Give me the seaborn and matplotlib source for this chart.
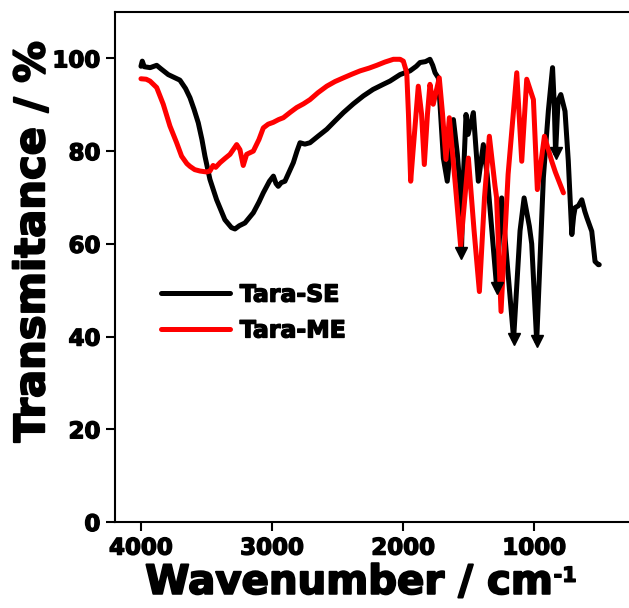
import matplotlib
matplotlib.use("Agg")
import matplotlib.pyplot as plt
import matplotlib.patheffects as pe
import seaborn as sns
import pandas as pd

# FTIR spectra (wavenumber in cm-1, transmittance in %)
wn_se = [4000, 3990, 3975, 3930, 3880, 3850, 3792, 3740, 3703, 3660, 3626, 3595,
         3563, 3535, 3512, 3474, 3423, 3360, 3310, 3283, 3250, 3207, 3143, 3100,
         3067, 3020, 2990, 2970, 2953, 2930, 2902, 2870, 2838, 2810, 2787, 2750,
         2711, 2650, 2583, 2520, 2456, 2380, 2304, 2230, 2152, 2101, 2024, 1948,
         1900, 1872, 1830, 1796, 1775, 1757, 1732, 1694, 1664, 1636, 1617, 1587,
         1559, 1556, 1540, 1521, 1505, 1465, 1427, 1389, 1360, 1287, 1249, 1158,
         1109, 1078, 1038, 1020, 982, 931, 893, 861, 848, 838, 819, 798, 766, 741,
         714, 700, 689, 664, 638, 615, 600, 562, 537, 512, 505]
t_se = [98.3, 99.4, 98.2, 98.0, 98.5, 97.8, 96.5, 95.8, 95.3, 93.5, 91.5, 89.0,
        86.1, 82.5, 78.9, 73.9, 69.5, 65.2, 63.5, 63.2, 63.9, 64.5, 66.7, 69.0,
        71.0, 73.5, 74.6, 73.0, 72.4, 73.2, 73.5, 75.5, 77.5, 80.0, 81.8, 81.5,
        81.8, 83.2, 84.7, 86.5, 88.3, 90.2, 91.9, 93.3, 94.4, 95.1, 96.5, 97.3,
        98.3, 99.1, 99.3, 99.8, 98.5, 96.9, 95.8, 78.5, 73.5, 81.4, 86.8, 79.3,
        69.2, 58.0, 75.0, 87.9, 83.6, 88.3, 73.5, 81.4, 75.0, 50.5, 69.9, 39.5,
        62.8, 69.9, 63.8, 60.0, 39.0, 74.3, 88.7, 98.0, 90.0, 79.5, 90.9, 92.2,
        88.6, 77.9, 62.0, 66.0, 67.8, 68.2, 69.5, 67.0, 65.7, 62.7, 56.2, 55.5, 55.5]

wn_me = [4000, 3960, 3931, 3880, 3830, 3779, 3728, 3690, 3650, 3626, 3590, 3550,
         3500, 3474, 3450, 3430, 3397, 3360, 3321, 3270, 3245, 3220, 3194, 3143,
         3100, 3067, 3030, 2991, 2950, 2914, 2860, 2812, 2760, 2711, 2650, 2583,
         2520, 2456, 2390, 2329, 2260, 2202, 2140, 2075, 2024, 1999, 1973, 1960,
         1943, 1925, 1885, 1860, 1839, 1815, 1796, 1771, 1725, 1700, 1674, 1648,
         1600, 1562, 1503, 1460, 1419, 1380, 1343, 1300, 1288, 1254, 1200, 1134,
         1096, 1058, 1007, 977, 923, 867, 840, 778]
t_me = [95.6, 95.5, 95.1, 93.7, 90.1, 85.4, 81.8, 78.9, 77.3, 76.7, 76.0, 75.7,
        75.5, 75.7, 76.9, 76.5, 77.5, 78.4, 79.3, 81.4, 80.3, 76.9, 79.3, 80.0,
        82.5, 85.0, 85.8, 86.2, 86.8, 87.2, 88.4, 89.4, 90.2, 91.1, 92.6, 94.0,
        95.0, 95.8, 96.6, 97.3, 97.9, 98.5, 99.2, 99.8, 99.8, 99.4, 96.9, 88.0,
        73.5, 80.0, 94.0, 88.0, 77.1, 88.0, 94.4, 90.1, 95.8, 88.0, 78.2, 87.2,
        72.0, 59.5, 78.5, 63.0, 49.7, 70.0, 83.2, 72.5, 70.0, 45.4, 75.0, 96.9,
        77.8, 95.5, 91.1, 71.7, 83.2, 77.8, 75.5, 71.0]

# marked absorption bands of Tara-SE
band_wn = [1556, 1287, 1158, 982, 838]
band_t = [58.0, 50.5, 39.5, 39.0, 79.5]

labels = ["Tara-SE", "Tara-ME"]
colors = ["black", "red"]
x_ticks = [4000, 3000, 2000, 1000]
y_ticks = [0, 20, 40, 60, 80, 100]

df = pd.concat([
    pd.DataFrame({"wn": wn_se, "T": t_se, "sample": labels[0]}),
    pd.DataFrame({"wn": wn_me, "T": t_me, "sample": labels[1]}),
], ignore_index=True)

sns.set_style("ticks")
plt.rcParams["font.family"] = ["DejaVu Sans"]
plt.rcParams["font.weight"] = "bold"
for key in ["text.color", "axes.labelcolor", "xtick.color", "ytick.color", "axes.edgecolor"]:
    plt.rcParams[key] = "black"

# slightly heavier glyphs
heavy = [pe.withStroke(linewidth=1.0, foreground="black")]
heavier = [pe.withStroke(linewidth=1.4, foreground="black")]

fig = plt.figure(figsize=(6.29, 6.08), dpi=100)
ax = fig.add_axes([115 / 629, 86 / 608, 514 / 629, 510 / 608])

sns.lineplot(data=df, x="wn", y="T", hue="sample", palette=dict(zip(labels, colors)),
             sort=False, estimator=None, linewidth=3.6, ax=ax, legend=True)
for line in ax.get_lines():
    line.set_solid_joinstyle("round")
    line.set_solid_capstyle("round")
ax.plot(band_wn, band_t, linestyle="none", marker="v", markersize=8, color="black")

ax.set_xlim(4198, 278)
ax.set_ylim(0, 110)
ax.set_xticks(x_ticks)
ax.set_yticks(y_ticks)
ax.tick_params(axis="both", which="major", length=6.5, width=1.5, direction="out",
               labelsize=16.5, pad=4)
for lab in ax.get_xticklabels() + ax.get_yticklabels():
    lab.set_fontweight("bold")
    lab.set_path_effects(heavy)
for side in ["left", "top", "bottom"]:
    ax.spines[side].set_linewidth(1.5)
ax.spines["right"].set_visible(False)

xl = ax.set_xlabel("Wavenumber / cm", fontsize=29, fontweight="bold", labelpad=0)
yl = ax.set_ylabel("Transmitance / %", fontsize=30, fontweight="bold", labelpad=0)
xl.set_path_effects(heavier)
yl.set_path_effects(heavier)
xl.set_verticalalignment("top")
ax.xaxis.set_label_coords(0.455, -0.08)
ax.yaxis.set_label_coords(-0.161, 0.549)
yl.set_verticalalignment("center")

handles, _ = ax.get_legend_handles_labels()
leg = ax.legend(handles[:2], labels, loc="upper left", bbox_to_anchor=(0.049, 0.511),
                frameon=False, handlelength=2.9, handletextpad=0.42,
                labelspacing=0.5, prop={"weight": "bold", "size": 17})
for h in leg.get_lines():
    h.set_linewidth(3.6)
for t in leg.get_texts():
    t.set_path_effects(heavy)

# superscript of the unit, placed right after the axis label
fig.canvas.draw()
bb = xl.get_window_extent(fig.canvas.get_renderer())
fig.text((bb.x1 + 1) / fig.bbox.width, (bb.y1 - 3) / fig.bbox.height, "-1",
         fontsize=15, fontweight="bold", ha="left", va="top", path_effects=heavy)

fig.savefig("out.png", dpi=100)
